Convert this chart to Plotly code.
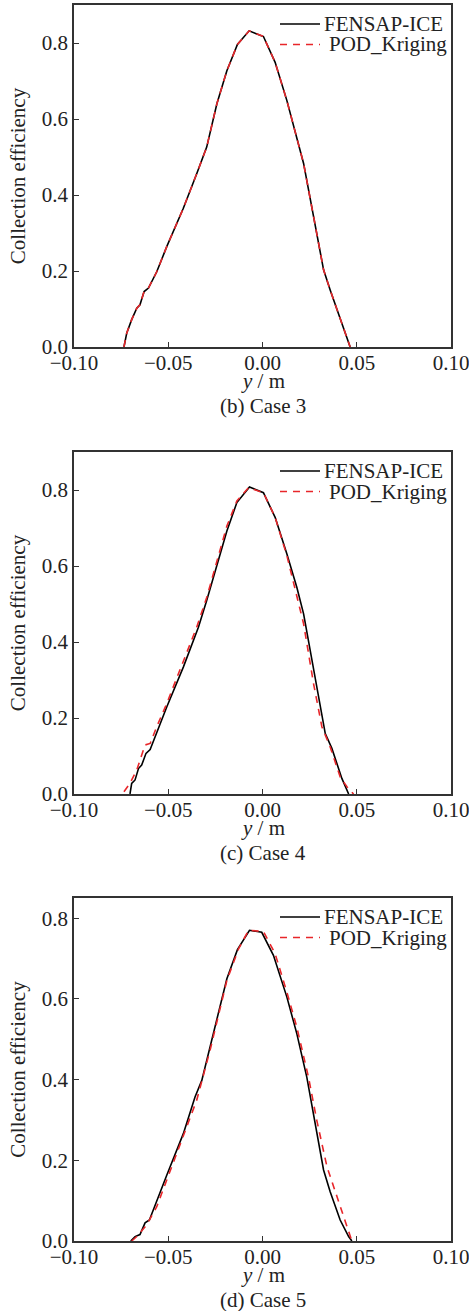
import plotly.graph_objects as go

# ---- data ----
# Case 3
c3_fensap_y = [-0.0735, -0.0720, -0.0694, -0.0667, -0.0650, -0.0628, -0.0605, -0.0561, -0.0508, -0.0420,
               -0.0349, -0.0296, -0.0242, -0.0189, -0.0133, -0.0071, 0.0005, 0.0067, 0.0129, 0.0182,
               0.0218, 0.0271, 0.0324, 0.0359, 0.0412, 0.0465]
c3_fensap_b = [0.000, 0.037, 0.072, 0.102, 0.111, 0.146, 0.155, 0.198, 0.264, 0.365,
               0.456, 0.526, 0.640, 0.727, 0.796, 0.832, 0.817, 0.749, 0.649, 0.552,
               0.483, 0.343, 0.203, 0.150, 0.072, 0.000]
c3_pod_y = [-0.0735, -0.0720, -0.0694, -0.0667, -0.0650, -0.0628, -0.0605, -0.0561, -0.0508, -0.0420,
            -0.0349, -0.0296, -0.0242, -0.0189, -0.0133, -0.0071, 0.0005, 0.0067, 0.0129, 0.0182,
            0.0218, 0.0271, 0.0324, 0.0359, 0.0412, 0.0465]
c3_pod_b = [0.000, 0.037, 0.072, 0.102, 0.111, 0.146, 0.155, 0.198, 0.264, 0.365,
            0.456, 0.526, 0.640, 0.727, 0.796, 0.832, 0.817, 0.749, 0.649, 0.552,
            0.483, 0.343, 0.203, 0.150, 0.072, 0.000]

# Case 4
c4_fensap_y = [-0.0703, -0.0694, -0.0676, -0.0658, -0.0641, -0.0618, -0.0596, -0.0508, -0.0420, -0.0340,
               -0.0296, -0.0189, -0.0136, -0.0069, 0.0005, 0.0067, 0.0129, 0.0182, 0.0218, 0.0280,
               0.0333, 0.0368, 0.0421, 0.0457]
c4_fensap_b = [0.000, 0.028, 0.037, 0.067, 0.076, 0.107, 0.117, 0.229, 0.334, 0.439,
               0.509, 0.692, 0.767, 0.808, 0.793, 0.728, 0.632, 0.544, 0.474, 0.299,
               0.159, 0.120, 0.041, 0.000]
c4_pod_y = [-0.0735, -0.0703, -0.0667, -0.0623, -0.0596, -0.0561, -0.0508, -0.0420, -0.0349, -0.0296,
            -0.0189, -0.0136, -0.0074, 0.0005, 0.0067, 0.0129, 0.0173, 0.0218, 0.0271, 0.0315,
            0.0359, 0.0412, 0.0448, 0.0483]
c4_pod_b = [0.006, 0.028, 0.063, 0.129, 0.133, 0.177, 0.238, 0.347, 0.439, 0.517,
            0.705, 0.771, 0.806, 0.793, 0.728, 0.628, 0.536, 0.448, 0.290, 0.177,
            0.124, 0.045, 0.019, 0.000]

# Case 5
c5_fensap_y = [-0.0699, -0.0676, -0.0650, -0.0623, -0.0600, -0.0561, -0.0508, -0.0420, -0.0358, -0.0322,
               -0.0278, -0.0242, -0.0189, -0.0133, -0.0069, -0.0004, 0.0058, 0.0129, 0.0182, 0.0235,
               0.0280, 0.0324, 0.0359, 0.0412, 0.0457, 0.0474]
c5_fensap_b = [0.000, 0.011, 0.016, 0.045, 0.052, 0.097, 0.163, 0.266, 0.357, 0.398,
               0.481, 0.555, 0.650, 0.722, 0.770, 0.765, 0.708, 0.605, 0.514, 0.406,
               0.291, 0.176, 0.122, 0.052, 0.011, 0.000]
c5_pod_y = [-0.0694, -0.0667, -0.0614, -0.0561, -0.0508, -0.0420, -0.0349, -0.0278, -0.0189, -0.0127,
            -0.0074, 0.0005, 0.0067, 0.0129, 0.0182, 0.0244, 0.0288, 0.0342, 0.0377, 0.0430,
            0.0474]
c5_pod_b = [0.000, 0.011, 0.040, 0.085, 0.151, 0.258, 0.349, 0.473, 0.646, 0.724,
            0.770, 0.767, 0.712, 0.617, 0.530, 0.406, 0.299, 0.184, 0.134, 0.060,
            0.000]

captions = ["(b) Case 3", "(c) Case 4", "(d) Case 5"]
series_names = ["FENSAP-ICE", "POD_Kriging"]
x_title = "<i>y</i> / m"
y_title = "Collection efficiency"
y_max = [0.9, 0.9, 0.85]

cases = [
    (c3_fensap_y, c3_fensap_b, c3_pod_y, c3_pod_b),
    (c4_fensap_y, c4_fensap_b, c4_pod_y, c4_pod_b),
    (c5_fensap_y, c5_fensap_b, c5_pod_y, c5_pod_b),
]

# ---- layout geometry (pixels) ----
W, H = 469, 1311
FONT = "Liberation Serif"
FS = 21
TXT = "#222"
RED = "#e8262a"
x_dom = [74 / W, 451 / W]
panels_px = [(5, 347), (452, 794), (898, 1241)]  # (top, bottom)
styles = [dict(color="black", width=1.6), dict(color=RED, width=1.6, dash="7px,6px")]

fig = go.Figure()
annotations, shapes = [], []
layout = dict(
    width=W, height=H, autosize=False,
    margin=dict(l=0, r=0, t=0, b=0, pad=0, autoexpand=False),
    paper_bgcolor="white", plot_bgcolor="white",
    font=dict(family=FONT, size=FS, color=TXT),
    showlegend=False,
)

for i, (fy, fb, py, pb) in enumerate(cases):
    n = "" if i == 0 else str(i + 1)
    xa, ya = "x" + n, "y" + n
    fig.add_trace(go.Scatter(x=fy, y=fb, mode="lines", name=series_names[0],
                             line=styles[0], xaxis=xa, yaxis=ya))
    fig.add_trace(go.Scatter(x=py, y=pb, mode="lines", name=series_names[1],
                             line=styles[1], xaxis=xa, yaxis=ya))
    top, bot = panels_px[i]
    y_dom = [(H - bot) / H, (H - top) / H]
    common = dict(showgrid=False, zeroline=False, showline=True, mirror=True,
                  automargin=False, ticklabeloverflow="allow",
                  linecolor="#333", linewidth=1.5, ticks="inside", ticklen=5,
                  tickwidth=1.2, tickcolor="#333",
                  tickfont=dict(size=FS, family=FONT, color=TXT))
    layout["xaxis" + n] = dict(domain=x_dom, anchor=ya, range=[-0.1, 0.1],
                               tickmode="linear", tick0=0, dtick=0.05, tickformat=".2f",
                               ticklabelstandoff=-4,
                               **common)
    layout["yaxis" + n] = dict(domain=y_dom, anchor=xa, range=[0, y_max[i]],
                               tickmode="linear", tick0=0, dtick=0.2, tickformat=".1f",
                               title=dict(text=y_title, standoff=10,
                                          font=dict(size=FS, family=FONT, color=TXT)),
                               **common)
    xd, yd = "x" + n + " domain", "y" + n + " domain"
    # x-axis title and caption under the panel
    annotations.append(dict(
        text=x_title, xref=xd, yref=yd, x=0.5, y=0, yshift=-34,
        showarrow=False, xanchor="center", yanchor="middle",
        font=dict(size=FS, family=FONT, color=TXT)))
    annotations.append(dict(
        text=captions[i], xref=xd, yref=yd, x=0.5, y=0, yshift=-59,
        showarrow=False, xanchor="center", yanchor="middle",
        font=dict(size=FS, family=FONT, color=TXT)))
    # legend (drawn inside the top-right corner of each panel)
    for k, (name, st) in enumerate(zip(series_names, styles)):
        dy = -19 - 20.5 * k
        shapes.append(dict(type="line", xref=xd, yref=yd,
                           xsizemode="pixel", ysizemode="pixel",
                           xanchor=1, yanchor=1, x0=-171, x1=-131, y0=dy, y1=dy,
                           line=st))
        annotations.append(dict(
            text=name, xref=xd, yref=yd, x=1, y=1, xshift=-129 + 5 * k, yshift=dy,
            showarrow=False, xanchor="left", yanchor="middle",
            font=dict(size=FS, family=FONT, color=TXT)))

layout["annotations"] = annotations
layout["shapes"] = shapes
fig.update_layout(**layout)
fig.write_html("out.html", config={"responsive": False})
